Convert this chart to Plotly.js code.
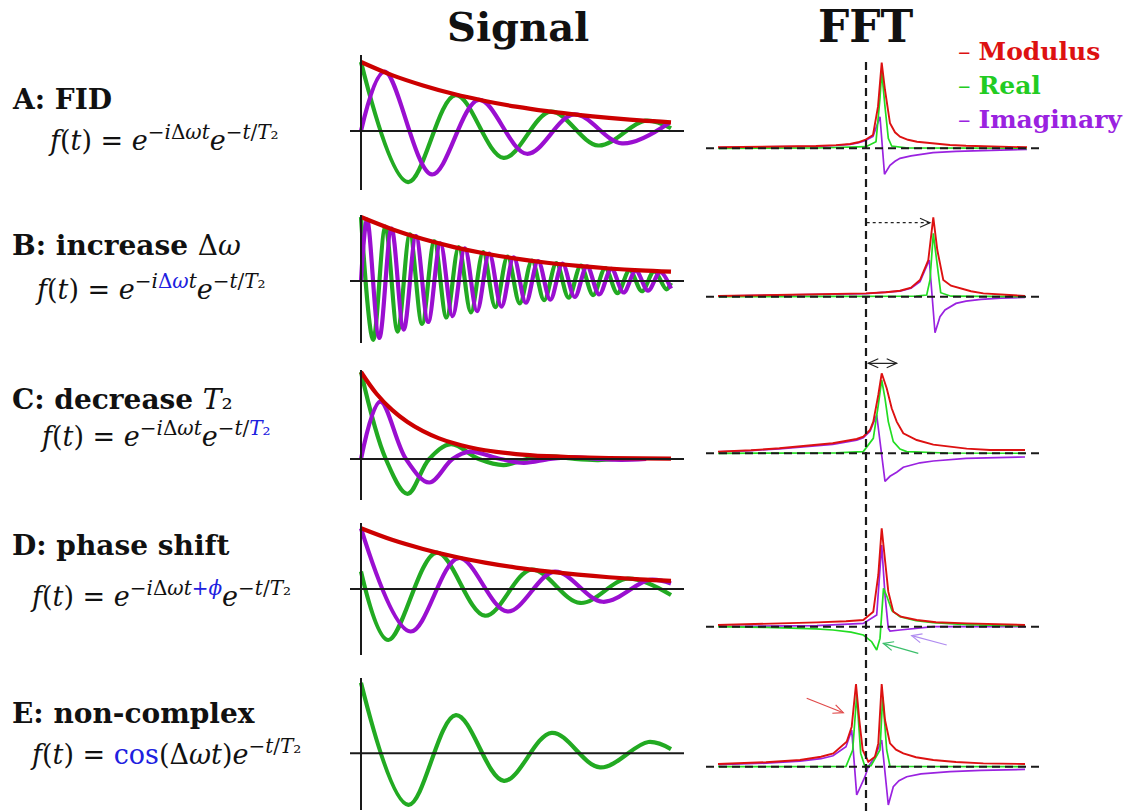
<!DOCTYPE html>
<html><head><meta charset="utf-8">
<script src="https://cdn.plot.ly/plotly-3.0.1.min.js"></script>
<style>html,body{margin:0;padding:0;background:#fff}#chart{width:1130px;height:811px}</style>
</head><body><div id="chart"></div>
<script>
// ================= DATA =================
// Signal panels: time t (arb. units), amplitude normalised to envelope at t=0
// A: FID
const envT_A = [0,1,2,3,4,5,6,7,8,9,10];
const envA   = [1.0,0.81,0.66,0.535,0.435,0.353,0.287,0.233,0.189,0.153,0.125];
const reT_A  = [0,1.52,3.05,4.6,6.12,7.65,9.17,10.0];
const reA    = [1.0,-0.74,0.52,-0.39,0.28,-0.21,0.15,0.04];
const imT_A  = [0,0.76,2.29,3.8,5.35,6.87,8.42,9.95];
const imA    = [0,0.86,-0.63,0.45,-0.33,0.24,-0.18,0.12];
// B: increase Δω
const envT_B = [0,1,2,3,4,5,6,7,8,9,10];
const envB   = [1.0,0.81,0.655,0.53,0.43,0.35,0.285,0.235,0.195,0.165,0.145];
const reT_B  = [0,0.394,0.788,1.182,1.576,1.97,2.364,2.758,3.152,3.546,3.94,4.334,4.728,5.122,5.516,5.91,6.304,6.698,7.092,7.486,7.88,8.274,8.668,9.062,9.456,9.85,10.0];
const reB    = [1.0,-0.92,0.85,-0.79,0.73,-0.67,0.62,-0.57,0.53,-0.49,0.45,-0.41,0.38,-0.35,0.32,-0.30,0.28,-0.26,0.24,-0.22,0.20,-0.19,0.17,-0.16,0.15,-0.13,-0.03];
const imT_B  = [0,0.197,0.591,0.985,1.379,1.773,2.167,2.561,2.955,3.349,3.743,4.137,4.531,4.925,5.319,5.713,6.107,6.501,6.895,7.289,7.683,8.077,8.471,8.865,9.259,9.653,10.0];
const imB    = [0,0.96,-0.89,0.82,-0.76,0.70,-0.64,0.59,-0.55,0.51,-0.47,0.43,-0.40,0.37,-0.34,0.31,-0.29,0.27,-0.25,0.23,-0.21,0.19,-0.18,0.16,-0.15,0.14,-0.12];
// C: decrease T2
const envT_C = [0,0.5,1,1.5,2,2.5,3,3.5,4,5,6,7,8,10];
const envC   = [1.0,0.75,0.565,0.425,0.32,0.24,0.18,0.135,0.10,0.057,0.032,0.018,0.01,0.004];
const reT_C  = [0,0.8,1.5,2.2,2.9,3.8,4.6,5.35,6.1,6.9,7.65,8.2];
const reC    = [1.0,0,-0.40,0,0.17,0,-0.07,0,0.03,0,-0.012,0];
const imT_C  = [0,0.62,1.45,2.2,2.95,3.5,4.5,5.25,6.1,6.9,7.65,8.4,9.2];
const imC    = [0,0.66,0,-0.27,0,0.085,0,-0.045,0,0.02,0,-0.01,0];
// D: phase shift
const envT_D = [0,1,2,3,4,5,6,7,8,9,10];
const envD   = [1.0,0.81,0.66,0.535,0.435,0.353,0.29,0.236,0.193,0.16,0.135];
const reT_D  = [0,0.88,2.44,4.0,5.5,7.07,8.6,10.0];
const reD    = [0.29,-0.84,0.60,-0.44,0.32,-0.23,0.17,-0.10];
const imT_D  = [0,1.6,3.15,4.72,6.25,7.8,9.3,10.0];
const imD    = [1.0,-0.70,0.51,-0.37,0.285,-0.21,0.15,0.09];
// E: non-complex
const reT_E  = [0,1.53,3.06,4.61,6.15,7.71,9.27,10.0];
const reE    = [1.0,-0.73,0.54,-0.39,0.29,-0.20,0.16,0.06];

// FFT panels: frequency f (arb. units, 0 = carrier), spectral amplitude (arb. units)
const modF_A = [-14.8,-10,-5,-3,-1.6,-0.8,-0.1,0.7,1.2,1.57,1.9,2.4,2.9,3.4,4.2,5.1,6.5,8.4,10,13,16.1];
const modA   = [0.1,0.15,0.23,0.32,0.43,0.6,0.83,1.33,4.16,8.56,5.83,2.5,1.6,1.16,0.85,0.66,0.5,0.33,0.25,0.17,0.1];
const reF_A  = [-14.8,-5,0,1.0,1.4,1.57,1.9,2.23,2.57,4,16.1];
const reSA   = [0,0.03,0.16,0.66,5.0,7.66,4.16,1.0,0.23,0.05,0];
const imF_A  = [-14.8,-10,-5,-3,-1.6,-0.8,-0.1,0.7,1.4,1.85,2.4,2.9,3.4,4.5,5.8,6.7,9,12,16.1];
const imSA   = [0.08,0.12,0.2,0.28,0.4,0.55,0.75,1.2,3.16,-2.6,-1.7,-1.3,-1.0,-0.75,-0.55,-0.43,-0.3,-0.2,-0.1];

const modF_B = [-14.8,-10,-5.6,-2,0,2,3.4,4.5,5.4,6.23,6.73,7.13,7.73,8.5,9.4,10.5,11.73,13.5,15.9];
const modB   = [0.07,0.15,0.27,0.3,0.33,0.45,0.6,0.9,1.67,3.67,7.93,4.67,1.67,1.1,0.83,0.55,0.33,0.2,0.07];
const reF_B  = [-14.8,5.0,6.07,6.4,6.73,7.13,7.47,8.5,15.9];
const reSB   = [0,0.05,0.17,1.67,6.33,3.0,0.4,0.05,0];
const imF_B  = [-14.8,-5,0,3.4,4.5,5.4,6.33,6.9,7.4,7.9,8.5,9.0,10,11.5,13.5,15.9];
const imSB   = [0.05,0.2,0.3,0.55,0.85,1.5,3.67,-3.6,-2.0,-1.33,-0.95,-0.67,-0.45,-0.27,-0.15,-0.07];

const modF_C = [-14.8,-11.5,-8.67,-6,-3.33,-0.93,-0.27,0.4,0.73,1.23,1.57,2.07,2.57,3.07,3.73,5.07,6.73,10.07,12.4,15.9];
const modC   = [0.17,0.3,0.5,0.72,1.0,1.43,1.67,2.33,3.17,5.83,8.0,6.5,4.5,3.17,2.0,1.33,0.87,0.47,0.33,0.33];
const reF_C  = [-14.8,-3,-0.27,0.73,1.23,1.57,1.9,2.23,2.73,3.4,4.07,8,15.9];
const reSC   = [0,0.05,0.17,1.5,4.83,7.33,5.5,3.17,1.17,0.43,0.17,0.03,0];
const imF_C  = [-14.8,-11.5,-8.67,-6,-3.33,-0.93,-0.27,0.4,1.07,1.9,2.4,3.07,3.73,5.4,6.73,10,15.9];
const imSC   = [0.15,0.27,0.45,0.65,0.9,1.3,1.55,2.2,3.83,-2.8,-2.3,-1.9,-1.4,-0.95,-0.77,-0.5,-0.37];

const modF_D = [-14.8,-10,-4.9,-2,-0.27,0.73,1.23,1.57,1.9,2.23,2.73,3.5,5.07,7,10.07,13,15.9];
const modD   = [0.17,0.28,0.43,0.55,0.67,1.5,5.17,9.83,6.83,3.5,1.5,1.0,0.67,0.45,0.33,0.22,0.17];
const reF_D  = [-14.8,-10,-5,-3.3,-1.5,-0.27,0.57,1.07,1.4,1.75,2.1,2.6,3.4,5,6.73,10,15.9];
const reSD   = [0,-0.07,-0.22,-0.33,-0.55,-0.83,-1.5,-2.33,-1.17,3.83,3.0,1.6,1.0,0.6,0.4,0.2,0.05];
const imF_D  = [-14.8,-4.9,-0.27,1.07,1.57,1.9,2.23,2.4,3.4,6.73,15.9];
const imSD   = [0.02,0.1,0.33,1.17,8.17,3.17,-0.17,-0.43,-0.33,0,0];

const modF_E = [-14.8,-10,-6.6,-4.5,-3.27,-1.93,-1.43,-1.0,-0.67,-0.33,0.23,0.9,1.23,1.57,1.9,2.4,3.0,3.73,5,6.73,9,11.73,15.9];
const modE   = [0.27,0.45,0.67,1.0,1.33,2.5,4.0,8.27,4.67,1.67,0.5,1.0,2.33,8.27,4.67,2.33,1.7,1.33,0.95,0.67,0.47,0.33,0.27];
const reF_E  = [-14.8,-2.0,-1.33,-0.93,-0.53,-0.1,0.5,1.4,1.67,2.07,2.4,15.9];
const reSE   = [0,0.03,1.67,7.17,1.33,0,0.1,1.67,7.0,1.67,0.03,0];
const imF_E  = [-14.8,-10,-6.6,-4.5,-3.3,-2.0,-1.43,-0.93,-0.1,0.23,0.9,1.57,2.23,2.73,3.3,4.07,5.5,8.4,11.5,15.9];
const imSE   = [0.2,0.35,0.55,0.8,1.1,2.0,3.67,-2.83,-1.0,0,1.0,2.67,-3.83,-2.0,-1.4,-1.0,-0.72,-0.5,-0.37,-0.27];

// annotation arrows in FFT units: [row, x0, y0, x1, y1, colour, style]
const arrows = [
  [1, 0.07, 7.4, 6.4, 7.4, '#222', 'dot'],
  [2, 1.6, 9.0, 3.07, 9.0, '#222', 'solid'],
  [2, 1.6, 9.0, 0.23, 9.0, '#222', 'solid'],
  [3, 5.23, -2.66, 1.73, -1.66, '#3bbf6a', 'solid'],
  [3, 8.07, -1.83, 4.57, -0.9, '#b08cf0', 'solid'],
  [4, -5.93, 6.84, -2.27, 5.4, '#e04a4a', 'solid']
];

// ================= STYLE / LAYOUT =================
const W = 1130, H = 811;
const PX = p => p / W, PY = p => 1 - p / H;
const SIG_G = '#22aa22', SIG_P = '#9a0fd0', SIG_R = '#cc0000';
const FFT_R = '#dd1111', FFT_G = '#22dd22', FFT_P = '#9a22e0';

const sigRows = [
  {top:55, bot:190, zero:131, amp:69},
  {top:215, bot:343, zero:281, amp:64},
  {top:370, bot:500, zero:459, amp:87},
  {top:523, bot:655, zero:589, amp:60.7},
  {top:678, bot:810, zero:753.3, amp:70.6}
];
const fftBase = [148.3, 296.7, 453.3, 626.7, 766.7];

const sigData = [
  {env:[envT_A,envA], re:[reT_A,reA], im:[imT_A,imA]},
  {env:[envT_B,envB], re:[reT_B,reB], im:[imT_B,imB]},
  {env:[envT_C,envC], re:[reT_C,reC], im:[imT_C,imC]},
  {env:[envT_D,envD], re:[reT_D,reD], im:[imT_D,imD]},
  {re:[reT_E,reE]}
];
const fftData = [
  {mod:[modF_A,modA], re:[reF_A,reSA], im:[imF_A,imSA]},
  {mod:[modF_B,modB], re:[reF_B,reSB], im:[imF_B,imSB]},
  {mod:[modF_C,modC], re:[reF_C,reSC], im:[imF_C,imSC]},
  {mod:[modF_D,modD], re:[reF_D,reSD], im:[imF_D,imSD]},
  {mod:[modF_E,modE], re:[reF_E,reSE], im:[imF_E,imSE]}
];

const sfx = n => (n === 1 ? '' : String(n));
const traces = [];
const layout = {
  width: W, height: H, margin: {l:0, r:0, t:0, b:0},
  paper_bgcolor: '#fff', plot_bgcolor: 'rgba(0,0,0,0)', showlegend: false,
  shapes: [], annotations: []
};
const hidden = {showgrid:false, zeroline:false, showticklabels:false, ticks:'', showline:false, fixedrange:true};

sigRows.forEach((r, i) => {
  const n = i + 1, s = sfx(n);
  const dTop = Math.max(0, r.top - 8), dBot = Math.min(H, r.bot + 4);
  layout['xaxis' + s] = Object.assign({}, hidden, {domain:[PX(345), PX(690)], range:[(345-361)/31, (690-361)/31], anchor:'y'+s});
  layout['yaxis' + s] = Object.assign({}, hidden, {domain:[PY(dBot), PY(dTop)], range:[(r.zero-dBot)/r.amp, (r.zero-dTop)/r.amp], anchor:'x'+s});
  const d = sigData[i];
  const add = (xy, color, w) => traces.push({x:xy[0], y:xy[1], type:'scatter', mode:'lines', xaxis:'x'+s, yaxis:'y'+s,
    line:{color:color, width:w, shape:'spline', smoothing:1}, hoverinfo:'skip'});
  add(d.re, SIG_G, 4.2);
  if (d.im) add(d.im, SIG_P, 4.2);
  if (d.env) add(d.env, SIG_R, 4.2);
  layout.shapes.push({type:'line', layer:'above', xref:'paper', x0:PX(350), x1:PX(684), yref:'y'+s, y0:0, y1:0, line:{color:'#1a1a1a', width:2}});
  layout.shapes.push({type:'line', layer:'above', xref:'x'+s, x0:0, x1:0, yref:'paper', y0:PY(r.bot), y1:PY(r.top), line:{color:'#1a1a1a', width:2}});
});

fftBase.forEach((y0, i) => {
  const n = i + 6, s = sfx(n);
  const top = y0 - 106, bot = Math.min(H, y0 + 44);
  layout['xaxis' + s] = Object.assign({}, hidden, {domain:[PX(700), PX(1046)], range:[(700-866)/10, (1046-866)/10], anchor:'y'+s});
  layout['yaxis' + s] = Object.assign({}, hidden, {domain:[PY(bot), PY(top)], range:[(y0-bot)/10, (y0-top)/10], anchor:'x'+s});
  const d = fftData[i];
  const add = (xy, color, w) => traces.push({x:xy[0], y:xy[1], type:'scatter', mode:'lines', xaxis:'x'+s, yaxis:'y'+s,
    line:{color:color, width:w}, hoverinfo:'skip'});
  add(d.im, FFT_P, 1.7);
  add(d.re, FFT_G, 1.7);
  add(d.mod, FFT_R, 1.9);
  layout.shapes.push({type:'line', layer:'above', xref:'paper', x0:PX(706), x1:PX(1040), yref:'y'+s, y0:0, y1:0, line:{color:'#1a1a1a', width:2, dash:'8px,5px'}});
});
// vertical dashed line at f = 0 spanning all FFT rows
layout.shapes.push({type:'line', layer:'above', xref:'x6', x0:0, x1:0, yref:'paper', y0:0, y1:PY(62), line:{color:'#1a1a1a', width:2.2, dash:'8px,5px'}});

// arrows
arrows.forEach(a => {
  const [row, x0, y0, x1, y1, col, sty] = a;
  const s = sfx(row + 6);
  const dx = x1 - x0, dy = y1 - y0, L = Math.hypot(dx, dy), ux = dx / L, uy = dy / L;
  const head = 1.0, hw = 0.45;
  const hx = x1 - ux * head, hy = y1 - uy * head;
  layout.shapes.push({type:'line', layer:'above', xref:'x'+s, yref:'y'+s, x0:x0, y0:y0, x1:x1, y1:y1, line:{color:col, width:1.2, dash:sty}});
  layout.shapes.push({type:'path', layer:'above', xref:'x'+s, yref:'y'+s,
    path:`M${hx - uy*hw},${hy + ux*hw}L${x1},${y1}L${hx + uy*hw},${hy - ux*hw}`, line:{color:col, width:1.2}});
});

// texts
const SERIF_B = 'DejaVu Serif, Liberation Serif, serif';
const MATH = 'DejaVu Serif, Liberation Serif, serif';
const BLUE = '#2020e0';
function txt(text, x, y, size, fam, color, anchor) {
  layout.annotations.push({text:text, xref:'paper', yref:'paper', x:PX(x), y:PY(y), xanchor:anchor||'left', yanchor:'middle',
    showarrow:false, font:{family:fam, size:size, color:color||'#111'}});
}
txt('<b>Signal</b>', 518, 27, 40, SERIF_B, '#111', 'center');
txt('<b>FFT</b>', 866, 27, 44, SERIF_B, '#111', 'center');

txt('– <b>Modulus</b>', 956, 52, 25, SERIF_B, '#dd1111');
txt('– <b>Real</b>', 956, 86, 25, SERIF_B, '#22cc22');
txt('– <b>Imaginary</b>', 956, 120, 25, SERIF_B, '#9a22e0');

const labels = [
  ['<b>A: FID</b>', 100],
  ['<b>B: increase </b>Δ<i>ω</i>', 245],
  ['<b>C: decrease </b><i>T</i>₂', 400],
  ['<b>D: phase shift</b>', 545],
  ['<b>E: non-complex</b>', 713]
];
labels.forEach(l => txt(l[0], 10, l[1], 28, SERIF_B));
const sp = (c, t) => `<span style="color:${c}">${t}</span>`;
const ex = t => `<sup><span style="font-size:20px">${t}</span></sup>`;
const formulas = [
  [`<i>f</i>(<i>t</i>) = <i>e</i>${ex('−<i>i</i>Δ<i>ωt</i>')}<i>e</i>${ex('−<i>t</i>/<i>T</i>₂')}`, 46, 138],
  [`<i>f</i>(<i>t</i>) = <i>e</i>${ex('−<i>i</i>' + sp(BLUE,'Δ<i>ω</i>') + '<i>t</i>')}<i>e</i>${ex('−<i>t</i>/<i>T</i>₂')}`, 33, 287],
  [`<i>f</i>(<i>t</i>) = <i>e</i>${ex('−<i>i</i>Δ<i>ωt</i>')}<i>e</i>${ex('−<i>t</i>/' + sp(BLUE,'<i>T</i>₂'))}`, 38, 434],
  [`<i>f</i>(<i>t</i>) = <i>e</i>${ex('−<i>i</i>Δ<i>ωt</i>' + sp(BLUE,'+<i>ϕ</i>'))}<i>e</i>${ex('−<i>t</i>/<i>T</i>₂')}`, 28, 594],
  [`<i>f</i>(<i>t</i>) = ${sp(BLUE,'cos')}(Δ<i>ωt</i>)<i>e</i>${ex('−<i>t</i>/<i>T</i>₂')}`, 28, 752]
];
formulas.forEach(f => txt(f[0], f[1], f[2], 27, MATH, '#111'));

Plotly.newPlot('chart', traces, layout, {staticPlot:true, displayModeBar:false});
</script></body></html>
